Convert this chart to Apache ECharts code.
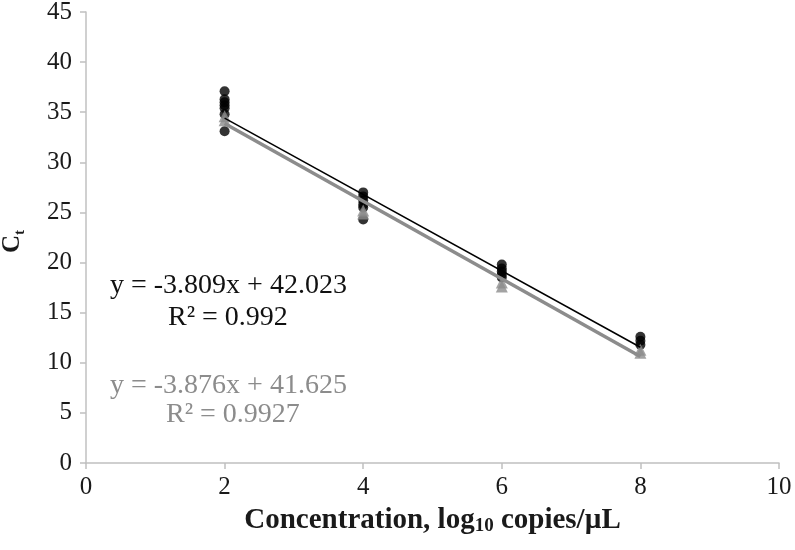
<!DOCTYPE html>
<html>
<head>
<meta charset="utf-8">
<script src="https://cdn.jsdelivr.net/npm/echarts@6/dist/echarts.min.js"></script>
<style>
  html, body { margin: 0; padding: 0; background: #fff; }
  #chart { width: 795px; height: 550px; }
</style>
</head>
<body>
<div id="chart"></div>
<script>
// x ticks / y ticks
var xTicks = [0, 2, 4, 6, 8, 10]
var yTicks = [0, 5, 10, 15, 20, 25, 30, 35, 40, 45]

// black dots (set 1)
var blackX = [2, 2, 2, 2, 2, 2, 2, 4, 4, 4, 4, 4, 4, 6, 6, 6, 6, 6, 8, 8, 8]
var blackY = [37.1, 36.3, 36.0, 35.7, 35.4, 34.8, 33.1, 27.0, 26.6, 26.2, 25.8, 25.5, 24.3, 19.8, 19.4, 19.1, 18.8, 18.5, 12.6, 12.2, 11.8]

// grey triangles (set 2)
var greyX = [2, 2, 4, 4, 6, 6, 8, 8]
var greyY = [34.6, 34.2, 25.2, 24.9, 18.0, 17.6, 11.3, 11.0]

// trendlines: slope, intercept, fitted range
var slopes = [-3.809, -3.876]
var intercepts = [42.023, 41.625]
var fitRange = [2, 8]
var eqText = ['y = -3.809x + 42.023', 'y = -3.876x + 41.625']
var r2Text = ['R² = 0.992', 'R² = 0.9927']

function pairs(xs, ys) {
  return xs.map(function (x, i) { return [x, ys[i]] })
}
function trend(k) {
  return fitRange.map(function (x) { return [x, slopes[k] * x + intercepts[k]] })
}

var chart = echarts.init(document.getElementById('chart'))
var serif = '"Liberation Serif", "DejaVu Serif", serif'

chart.setOption({
  animation: false,
  grid: { left: 86, right: 16, top: 12, bottom: 87, outerBoundsMode: 'none', containLabel: false },
  xAxis: {
    type: 'value',
    min: 0, max: 10, interval: 2,
    splitLine: { show: false },
    axisLine: { lineStyle: { color: '#c0c0c0', width: 1.5 } },
    axisTick: { lineStyle: { color: '#c0c0c0', width: 1.5 }, length: 6 },
    axisLabel: { color: '#1a1a1a', fontFamily: serif, fontSize: 25, margin: 12 },
    name: '{b|Concentration, log}{s|10}{b| copies/µL}',
    nameLocation: 'middle',
    nameGap: 42,
    nameTextStyle: {
      rich: {
        b: { fontFamily: serif, fontWeight: 'bold', fontSize: 29, color: '#1a1a1a' },
        s: { fontFamily: serif, fontWeight: 'bold', fontSize: 19, color: '#1a1a1a', padding: [12, 0, 0, 0] }
      }
    }
  },
  yAxis: {
    type: 'value',
    min: 0, max: 45, interval: 5,
    splitLine: { show: false },
    axisLine: { show: true, lineStyle: { color: '#c0c0c0', width: 1.5 } },
    axisTick: { show: true, lineStyle: { color: '#c0c0c0', width: 1.5 }, length: 6 },
    axisLabel: { color: '#1a1a1a', fontFamily: serif, fontSize: 25, margin: 14 },
    name: '{b|C}{s|t}',
    nameLocation: 'middle',
    nameGap: 58,
    nameMoveOverlap: false,
    nameTextStyle: {
      padding: [0, 8, 0, 0],
      rich: {
        b: { fontFamily: serif, fontWeight: 'bold', fontSize: 25, color: '#1a1a1a' },
        s: { fontFamily: serif, fontWeight: 'bold', fontSize: 15, color: '#1a1a1a', padding: [15, 0, 0, 0] }
      }
    }
  },
  graphic: [
    { type: 'text', left: 110, top: 272, style: { text: eqText[0], font: '28px ' + serif, fill: '#111' } },
    { type: 'text', left: 168, top: 304, style: { text: r2Text[0], font: '28px ' + serif, fill: '#111' } },
    { type: 'text', left: 110, top: 372, style: { text: eqText[1], font: '28px ' + serif, fill: '#8c8c8c' } },
    { type: 'text', left: 166, top: 401, style: { text: r2Text[1], font: '28px ' + serif, fill: '#8c8c8c' } }
  ],
  series: [
    {
      type: 'scatter',
      data: pairs(blackX, blackY),
      symbol: 'circle',
      symbolSize: 10,
      itemStyle: { color: '#000' }
    },
    {
      type: 'scatter',
      data: pairs(greyX, greyY),
      symbol: 'triangle',
      symbolSize: 12,
      itemStyle: { color: '#8c8c8c' }
    },
    {
      type: 'line',
      data: trend(1),
      symbol: 'none',
      lineStyle: { color: '#8c8c8c', width: 3.5 }
    },
    {
      type: 'line',
      data: trend(0),
      symbol: 'none',
      lineStyle: { color: '#000', width: 1.5 }
    }
  ]
})
</script>
</body>
</html>
